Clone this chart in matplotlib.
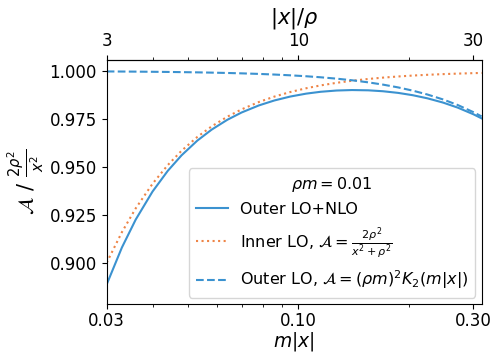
import numpy as np
import matplotlib
matplotlib.use("Agg")
import matplotlib.pyplot as plt
from matplotlib.ticker import FixedLocator, FixedFormatter, NullFormatter

# m|x| sample points (rho*m = 0.01)
mx = [0.030, 0.033, 0.036, 0.040, 0.044, 0.048, 0.053, 0.058, 0.064, 0.070,
      0.078, 0.086, 0.095, 0.105, 0.115, 0.127, 0.140, 0.155, 0.170, 0.187,
      0.205, 0.225, 0.248, 0.272, 0.300, 0.316]

# A / (2 rho^2 / x^2)
outer_nlo = [0.88867, 0.90790, 0.92252, 0.93710, 0.94787, 0.95602, 0.96370,
             0.96943, 0.97457, 0.97837, 0.98205, 0.98464, 0.98668, 0.98820,
             0.98917, 0.98982, 0.99007, 0.98993, 0.98945, 0.98859, 0.98738,
             0.98574, 0.98353, 0.98090, 0.97744, 0.97529]
inner_lo = [0.90000, 0.91590, 0.92837, 0.94118, 0.95088, 0.95840, 0.96562,
            0.97113, 0.97617, 0.98000, 0.98383, 0.98666, 0.98904, 0.99101,
            0.99250, 0.99384, 0.99492, 0.99585, 0.99655, 0.99715, 0.99763,
            0.99803, 0.99838, 0.99865, 0.99889, 0.99900]
outer_lo = [0.99978, 0.99973, 0.99968, 0.99960, 0.99952, 0.99942, 0.99930,
            0.99916, 0.99898, 0.99878, 0.99849, 0.99816, 0.99776, 0.99727,
            0.99673, 0.99602, 0.99517, 0.99409, 0.99291, 0.99145, 0.98976,
            0.98772, 0.98516, 0.98225, 0.97855, 0.97629]

rho_m = 0.01
bottom_ticks = [0.03, 0.10, 0.30]
top_ticks = [3, 10, 30]
y_ticks = [0.900, 0.925, 0.950, 0.975, 1.000]

C_BLUE = "#3b92d0"
C_ORANGE = "#ee8446"

fig = plt.figure(figsize=(4.94, 3.52), dpi=100)
ax = fig.add_axes([0.216, 0.1364, 0.759, 0.6931])

ax.plot(mx, outer_nlo, "-", color=C_BLUE, lw=1.5, label="Outer LO+NLO")
ax.plot(mx, inner_lo, ":", color=C_ORANGE, lw=1.5,
        label=r"Inner LO, $\mathcal{A} = \frac{2\rho^2}{x^2+\rho^2}$")
ax.plot(mx, outer_lo, "--", color=C_BLUE, lw=1.5,
        label=r"Outer LO, $\mathcal{A} = (\rho m)^2 K_2(m|x|)$")

ax.set_xscale("log")
ax.set_xlim(0.03, 0.316)
ax.set_ylim(0.87845, 1.00574)

ax.xaxis.set_major_locator(FixedLocator(bottom_ticks))
ax.xaxis.set_major_formatter(FixedFormatter([f"{t:.2f}" for t in bottom_ticks]))
ax.xaxis.set_minor_formatter(NullFormatter())
ax.set_yticks(y_ticks)
ax.set_yticklabels([f"{t:.3f}" for t in y_ticks])
ax.tick_params(labelsize=12)
ax.tick_params(axis="x", which="major", pad=2)

ax.set_xlabel(r"$m|x|$", fontsize=13.5)
ax.xaxis.set_label_coords(0.5, -0.108)
ax.set_ylabel(r"$\mathcal{A}\ /\ \frac{2\rho^2}{x^2}$", fontsize=15, labelpad=2)

top = ax.secondary_xaxis("top", functions=(lambda v: v / rho_m, lambda v: v * rho_m))
top.set_xscale("log")
top.xaxis.set_major_locator(FixedLocator(top_ticks))
top.xaxis.set_major_formatter(FixedFormatter([str(t) for t in top_ticks]))
top.xaxis.set_minor_formatter(NullFormatter())
top.tick_params(labelsize=12)
top.set_xlabel(r"$|x|/\rho$", fontsize=15, labelpad=6)

ax.legend(title=r"$\rho m = 0.01$", loc="lower right", fontsize=11.5,
          title_fontsize=11.5, borderaxespad=0.4)

fig.savefig("out.png", dpi=100)
